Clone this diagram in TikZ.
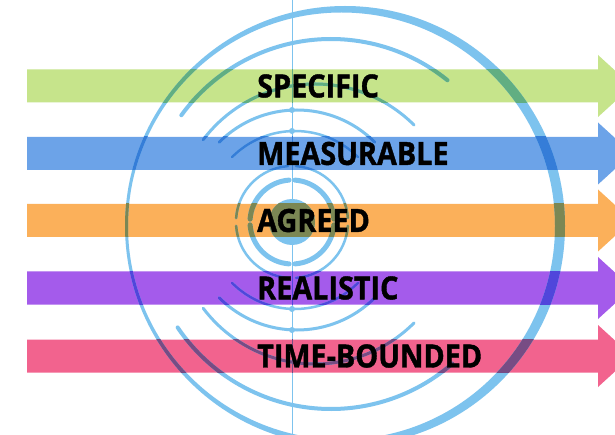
\documentclass[tikz,border=0pt]{standalone}
\usepackage{fontspec}
\newfontfamily\goalfont[FakeStretch=0.9, BoldFeatures={FakeBold=1.2}]{Open Sans}
\usetikzlibrary{calc}

\definecolor{barGreen}{HTML}{C6E48B}
\definecolor{barBlue}{HTML}{6CA3E8}
\definecolor{barOrange}{HTML}{FBB05A}
\definecolor{barPurple}{HTML}{A45BEB}
\definecolor{barPink}{HTML}{F2638E}
\definecolor{ringBlue}{HTML}{7DC3EE}
% ring colour as seen through each band
\definecolor{onGreen}{HTML}{61AE82}
\definecolor{onBlue}{HTML}{357DD8}
\definecolor{onOrange}{HTML}{7B8754}
\definecolor{onPurple}{HTML}{5046DB}
\definecolor{onPink}{HTML}{774C84}

% arrow band: y centre, colour
\newcommand{\goalbar}[2]{
  \fill[#2] (27,#1-16.5) -- (598,#1-16.5) -- (598,#1-31) -- (632,#1)
    -- (598,#1+31) -- (598,#1+16.5) -- (27,#1+16.5) -- cycle;}
% ripple arc: centre x, centre y, radius, start, end, width
\newcommand{\ripple}[6]{
  \draw[ring, line width=#6] (#1,#2) ++(#4:#3) arc[start angle=#4, end angle=#5, radius=#3];}
% the whole target, in colour ringBlue
\newcommand{\targetrings}{
    % outer rim, thin at the left, thick at the right
    \fill[ringBlue, even odd rule] (345,226) circle[radius=220]
      (341.5,226) circle[radius=213.5];
    % ripples, upper and lower
    \ripple{331}{224}{185}{-51}{-144}{4}
    \ripple{331}{224}{185}{146}{49}{4}
    \ripple{315}{224}{140}{-45}{-143}{3}
    \ripple{315}{224}{140}{143}{45}{3}
    \ripple{297}{220}{110}{-45}{-135}{3}
    \ripple{297}{220}{110}{135}{45}{3}
    \ripple{295}{220}{89}{-45}{-135}{2.5}
    \ripple{295}{220}{89}{135}{45}{2.5}
    \foreach \y in {110,131,309,330}
      \fill[ringBlue] (292,\y) circle[radius=3];
    % target centre
    \foreach \a in {0,90,180,270} {
      \ripple{292}{222}{56}{\a+4}{\a+86}{2.5}
      \ripple{292}{222}{42}{\a+4}{\a+86}{5}
    }
    \fill[ringBlue] (292,222) circle[radius=23];
    \draw[ringBlue, line width=0.8] (292,0) -- (292,435);}
% target seen through a band: y centre, colour
\newcommand{\seenthrough}[2]{
  \begin{scope}
    \clip (27,#1-16.5) rectangle (598,#1+16.5);
    \colorlet{ringBlue}{#2}
    \targetrings
  \end{scope}}

\begin{document}
\begin{tikzpicture}[x=1pt, y=-1pt,
    goal/.style={anchor=west, inner sep=0pt, text=black,
      font=\goalfont\bfseries\fontsize{32}{32}\selectfont},
    ring/.style={draw=ringBlue, line cap=round}]
  \useasboundingbox (0,0) rectangle (615,435);
  \clip (0,0) rectangle (615,435);
  \fill[white] (0,0) rectangle (615,435);

  % bands
  \goalbar{86}{barGreen}
  \goalbar{153.5}{barBlue}
  \goalbar{220.5}{barOrange}
  \goalbar{288}{barPurple}
  \goalbar{356}{barPink}

  % target
  \targetrings
  \seenthrough{86}{onGreen}
  \seenthrough{153.5}{onBlue}
  \seenthrough{220.5}{onOrange}
  \seenthrough{288}{onPurple}
  \seenthrough{356}{onPink}

  % labels
  \node[goal] (spec) at (257,86) {SPECIFIC};
  \node[goal] (meas) at (257,153.5) {MEASURABLE};
  \node[goal] (agr) at (257,220.5) {AGREED};
  \node[goal] (real) at (257,288) {REALISTIC};
  \node[goal] (time) at (257,356) {TIME-BOUNDED};
\end{tikzpicture}
\end{document}
